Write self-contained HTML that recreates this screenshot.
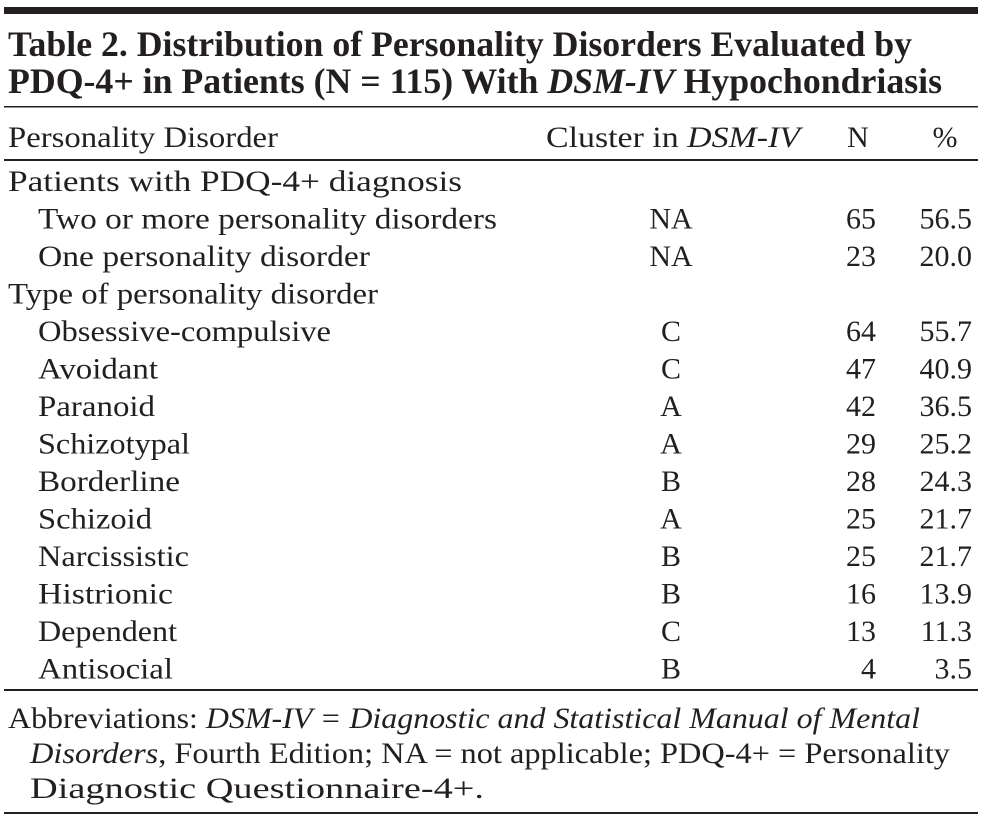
<!DOCTYPE html>
<html><head><meta charset="utf-8"><style>
html,body{margin:0;padding:0;background:#fff}
svg{display:block}
text{font-family:"Liberation Serif",serif;fill:#231f20}
</style></head><body>
<svg width="982" height="819" viewBox="0 0 982 819" xmlns="http://www.w3.org/2000/svg">
<rect x="4" y="7" width="974" height="7" fill="#231f20"/>
<text x="8" y="56" font-size="36" font-weight="bold" textLength="904" lengthAdjust="spacingAndGlyphs">Table 2. Distribution of Personality Disorders Evaluated by</text>
<text x="8" y="93" font-size="36" font-weight="bold" textLength="934" lengthAdjust="spacingAndGlyphs">PDQ-4+ in Patients (N = 115) With <tspan font-style="italic">DSM-IV</tspan> Hypochondriasis</text>
<rect x="4" y="106" width="974" height="1.5" fill="#231f20"/>
<g font-size="30">
<text x="8" y="147" textLength="270" lengthAdjust="spacingAndGlyphs">Personality Disorder</text>
<text x="546" y="147" textLength="254" lengthAdjust="spacingAndGlyphs">Cluster in <tspan font-style="italic">DSM-IV</tspan></text>
<text x="858" y="147" text-anchor="middle">N</text>
<text x="945" y="147" text-anchor="middle">%</text>
</g>
<rect x="4" y="159" width="974" height="2" fill="#231f20"/>
<g id="rows" font-size="30"></g>
<rect x="4" y="689" width="974" height="2" fill="#231f20"/>
<g font-size="30">
<text x="8" y="728" textLength="912" lengthAdjust="spacingAndGlyphs">Abbreviations: <tspan font-style="italic">DSM-IV = Diagnostic and Statistical Manual of Mental</tspan></text>
<text x="30" y="763" textLength="920" lengthAdjust="spacingAndGlyphs"><tspan font-style="italic">Disorders</tspan>, Fourth Edition; NA = not applicable; PDQ-4+ = Personality</text>
<text x="30" y="798" textLength="454" lengthAdjust="spacingAndGlyphs">Diagnostic Questionnaire-4+.</text>
</g>
<rect x="4" y="812" width="974" height="2" fill="#231f20"/>
</svg>
<script>
const labels=["Patients with PDQ-4+ diagnosis","Two or more personality disorders","One personality disorder","Type of personality disorder","Obsessive-compulsive","Avoidant","Paranoid","Schizotypal","Borderline","Schizoid","Narcissistic","Histrionic","Dependent","Antisocial"];
const clusters=["","NA","NA","","C","C","A","A","B","A","B","B","C","B"];
const counts=["","65","23","","64","47","42","29","28","25","25","16","13","4"];
const percents=["","56.5","20.0","","55.7","40.9","36.5","25.2","24.3","21.7","21.7","13.9","11.3","3.5"];
const labelWidths=[454,459,332,370,293,120,117,152,142,114,151,135,139,135];
const g=document.getElementById('rows');
const NS="http://www.w3.org/2000/svg";
function rowY(i){return 191+i*37.5;}
function mk(txt,x,y,anchor){const t=document.createElementNS(NS,'text');t.textContent=txt;t.setAttribute('x',x);t.setAttribute('y',y);if(anchor)t.setAttribute('text-anchor',anchor);return t;}
labels.forEach((l,i)=>{
  const y=rowY(i);
  const indent=(clusters[i]===""?8:38);
  const t=mk(l,indent,y);
  t.setAttribute('textLength',labelWidths[i]);
  t.setAttribute('lengthAdjust','spacingAndGlyphs');
  
  
  g.appendChild(t);
  if(clusters[i]){
    const c=mk(clusters[i],671,y,'middle');
    
    
    g.appendChild(c);
    const n=mk(counts[i],876,y,'end');
    
    
    g.appendChild(n);
    const p=mk(percents[i],972,y,'end');
    
    
    g.appendChild(p);
  }
});
</script>
</body></html>
